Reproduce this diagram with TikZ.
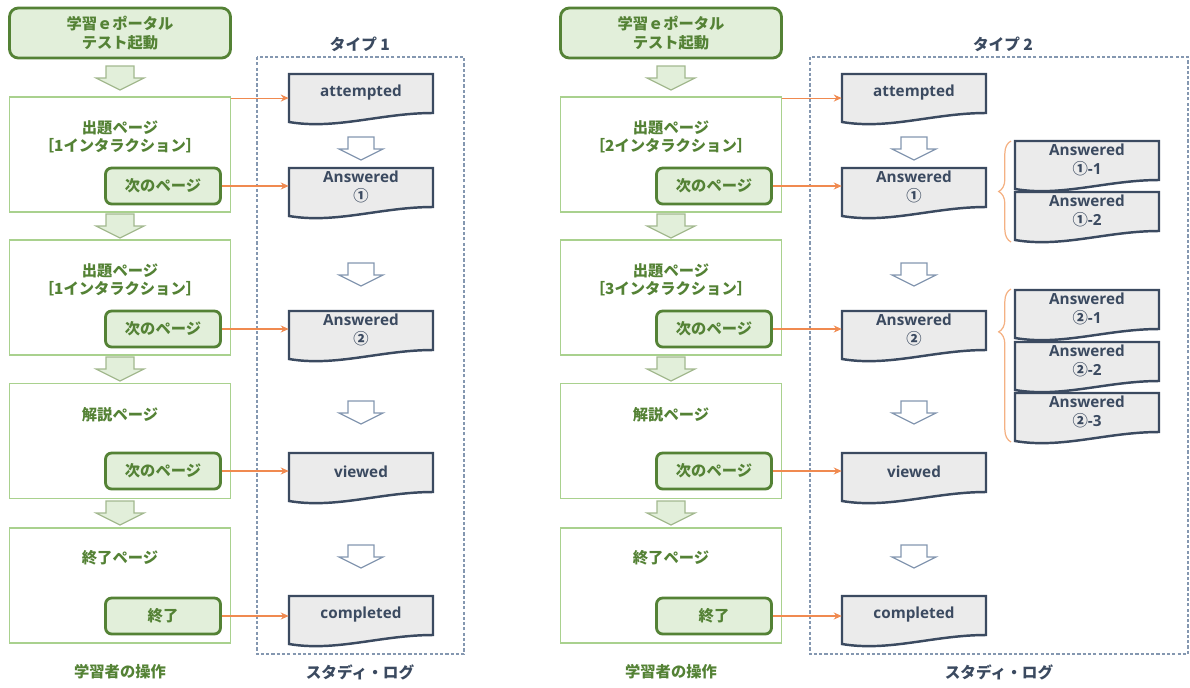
\documentclass[tikz,border=0pt]{standalone}
\usepackage{fontspec}
\setmainfont{Open Sans}
\newfontfamily\jp{Noto Sans CJK JP}
\usetikzlibrary{positioning, arrows.meta, decorations.pathreplacing}
\definecolor{opgreen}{HTML}{548235}
\definecolor{oplight}{HTML}{E2EFDA}
\definecolor{opline}{HTML}{A9D18E}
\definecolor{oparrow}{HTML}{A3B98F}
\definecolor{lognavy}{HTML}{3B4A60}
\definecolor{logfill}{HTML}{EBEBEB}
\definecolor{logdash}{HTML}{8497B0}
\definecolor{linkorange}{HTML}{F08A50}
\definecolor{braceorange}{HTML}{F4B183}
\tikzset{
    optext/.style={font=\jp\bfseries\fontsize{8.7}{10.5}\selectfont, text=opgreen, align=center},
    startbox/.style={optext, draw=opgreen, line width=1.6pt, fill=oplight, rounded corners=5pt, minimum width=4.42cm, minimum height=1.0cm},
    pagebox/.style={draw=opline, line width=0.8pt, fill=white, minimum width=4.42cm, minimum height=2.3cm},
    nextbtn/.style={optext, draw=opgreen, line width=1.6pt, fill=oplight, rounded corners=3.5pt, minimum width=2.3cm, minimum height=0.72cm},
    docframe/.style={minimum width=2.88cm, minimum height=0.96cm, inner sep=0pt},
    docline/.style={draw=lognavy, line width=1.4pt, fill=logfill},
    doctext/.style={font=\bfseries\fontsize{8.7}{10.5}\selectfont, text=lognavy, align=center},
    logframe/.style={draw=logdash, line width=0.6pt, dash pattern=on 1.8pt off 1.2pt},
    logtitle/.style={font=\jp\bfseries\fontsize{8.9}{10.5}\selectfont, text=lognavy},
    link/.style={draw=linkorange, line width=0.6pt, -{Stealth[length=4.5pt,width=4pt]}},
    bracket/.style={draw=braceorange, line width=0.7pt, decorate, decoration={brace, mirror, amplitude=7pt}},
    gdown/.pic={\filldraw[fill=oplight, draw=oparrow, line width=0.7pt] (-14,0) -- (14,0) -- (14,12) -- (24,12) -- (0,24) -- (-24,12) -- (-14,12) -- cycle;},
    wdown/.pic={\filldraw[fill=white, draw=logdash, line width=0.7pt] (-13,0) -- (13,0) -- (13,12) -- (22,12) -- (0,23) -- (-22,12) -- (-13,12) -- cycle;}
}
\newcommand{\logdoc}[4]{%
    \begin{scope}[shift={(#2,#3)}]
        \filldraw[docline] (-72,-24) -- (72,-24) -- (72,15) .. controls (20,15) and (-25,32) .. (-72,24) -- cycle;
    \end{scope}
    \node[docframe] (#1) at (#2,#3) {};
    \node[doctext] (#1t) at (#2,#3-5) {#4};
}

\begin{document}
\begin{tikzpicture}[x=0.02cm, y=-0.02cm]
    \useasboundingbox (0,0) rectangle (1190,687);

    % type 1
    \draw[logframe] (257,57) rectangle (464,654);
    \node[logtitle] (typeA) at (360,44) {タイプ 1};
    \node[startbox] (startA) at (120,33) {学習ｅポータル\\テスト起動};
    \node[pagebox] (pgA1) at (120,154.5) {};
    \node[pagebox] (pgA2) at (120,297.5) {};
    \node[pagebox] (pgA3) at (120,441) {};
    \node[pagebox] (pgA4) at (120,585.5) {};
    \node[optext] (ttlA1) at (120,137) {出題ページ\\［1インタラクション］};
    \node[optext] (ttlA2) at (120,280) {出題ページ\\［1インタラクション］};
    \node[optext] (ttlA3) at (120,415) {解説ページ};
    \node[optext] (ttlA4) at (120,558) {終了ページ};
    \node[nextbtn] (btnA1) at (163,186) {次のページ};
    \node[nextbtn] (btnA2) at (163,329) {次のページ};
    \node[nextbtn] (btnA3) at (163,471) {次のページ};
    \node[nextbtn] (btnA4) at (163,616) {終了};
    \foreach \y in {66,214,357,501} \pic at (120,\y) {gdown};
    \logdoc{attA}{361}{98}{attempted}
    \logdoc{ansA1}{361}{192}{Answered\\{\jp ①}}
    \logdoc{ansA2}{361}{335}{Answered\\{\jp ②}}
    \logdoc{viewA}{361}{477}{viewed}
    \logdoc{compA}{361}{620}{completed}
    \foreach \y in {137,263,401,545} \pic at (361,\y) {wdown};
    \draw[link] ([yshift=-1pt]pgA1.north east) -- ([yshift=-1pt]pgA1.north east -| attA.west);
    \draw[link] (btnA1.east) -- (btnA1.east -| ansA1.west);
    \draw[link] (btnA2.east) -- (btnA2.east -| ansA2.west);
    \draw[link] (btnA3.east) -- (btnA3.east -| viewA.west);
    \draw[link] (btnA4.east) -- (btnA4.east -| compA.west);
    \node[optext] (userA) at (120,672) {学習者の操作};
    \node[logtitle] (logA) at (360,672) {スタディ・ログ};

    % type 2
    \draw[logframe] (810,57) rectangle (1188,654);
    \node[logtitle] (typeB) at (1003,44) {タイプ 2};
    \node[startbox] (startB) at (671,33) {学習ｅポータル\\テスト起動};
    \node[pagebox] (pgB1) at (671,154.5) {};
    \node[pagebox] (pgB2) at (671,297.5) {};
    \node[pagebox] (pgB3) at (671,441) {};
    \node[pagebox] (pgB4) at (671,585.5) {};
    \node[optext] (ttlB1) at (671,137) {出題ページ\\［2インタラクション］};
    \node[optext] (ttlB2) at (671,280) {出題ページ\\［3インタラクション］};
    \node[optext] (ttlB3) at (671,415) {解説ページ};
    \node[optext] (ttlB4) at (671,558) {終了ページ};
    \node[nextbtn] (btnB1) at (714,186) {次のページ};
    \node[nextbtn] (btnB2) at (714,329) {次のページ};
    \node[nextbtn] (btnB3) at (714,471) {次のページ};
    \node[nextbtn] (btnB4) at (714,616) {終了};
    \foreach \y in {66,214,357,501} \pic at (671,\y) {gdown};
    \logdoc{attB}{914}{98}{attempted}
    \logdoc{ansB1}{914}{192}{Answered\\{\jp ①}}
    \logdoc{ansB2}{914}{335}{Answered\\{\jp ②}}
    \logdoc{viewB}{914}{477}{viewed}
    \logdoc{compB}{914}{620}{completed}
    \foreach \y in {137,263,401,545} \pic at (914,\y) {wdown};
    \logdoc{subB11}{1087}{165}{Answered\\{\jp ①}-1}
    \logdoc{subB12}{1087}{216}{Answered\\{\jp ①}-2}
    \logdoc{subB21}{1087}{314}{Answered\\{\jp ②}-1}
    \logdoc{subB22}{1087}{366}{Answered\\{\jp ②}-2}
    \logdoc{subB23}{1087}{417}{Answered\\{\jp ②}-3}
    \draw[bracket] (1011,141) -- (1011,242);
    \draw[bracket, decoration={aspect=0.28}] (1011,289) -- (1011,442);
    \draw[link] ([yshift=-1pt]pgB1.north east) -- ([yshift=-1pt]pgB1.north east -| attB.west);
    \draw[link] (btnB1.east) -- (btnB1.east -| ansB1.west);
    \draw[link] (btnB2.east) -- (btnB2.east -| ansB2.west);
    \draw[link] (btnB3.east) -- (btnB3.east -| viewB.west);
    \draw[link] (btnB4.east) -- (btnB4.east -| compB.west);
    \node[optext] (userB) at (671,672) {学習者の操作};
    \node[logtitle] (logB) at (999,672) {スタディ・ログ};
\end{tikzpicture}
\end{document}
